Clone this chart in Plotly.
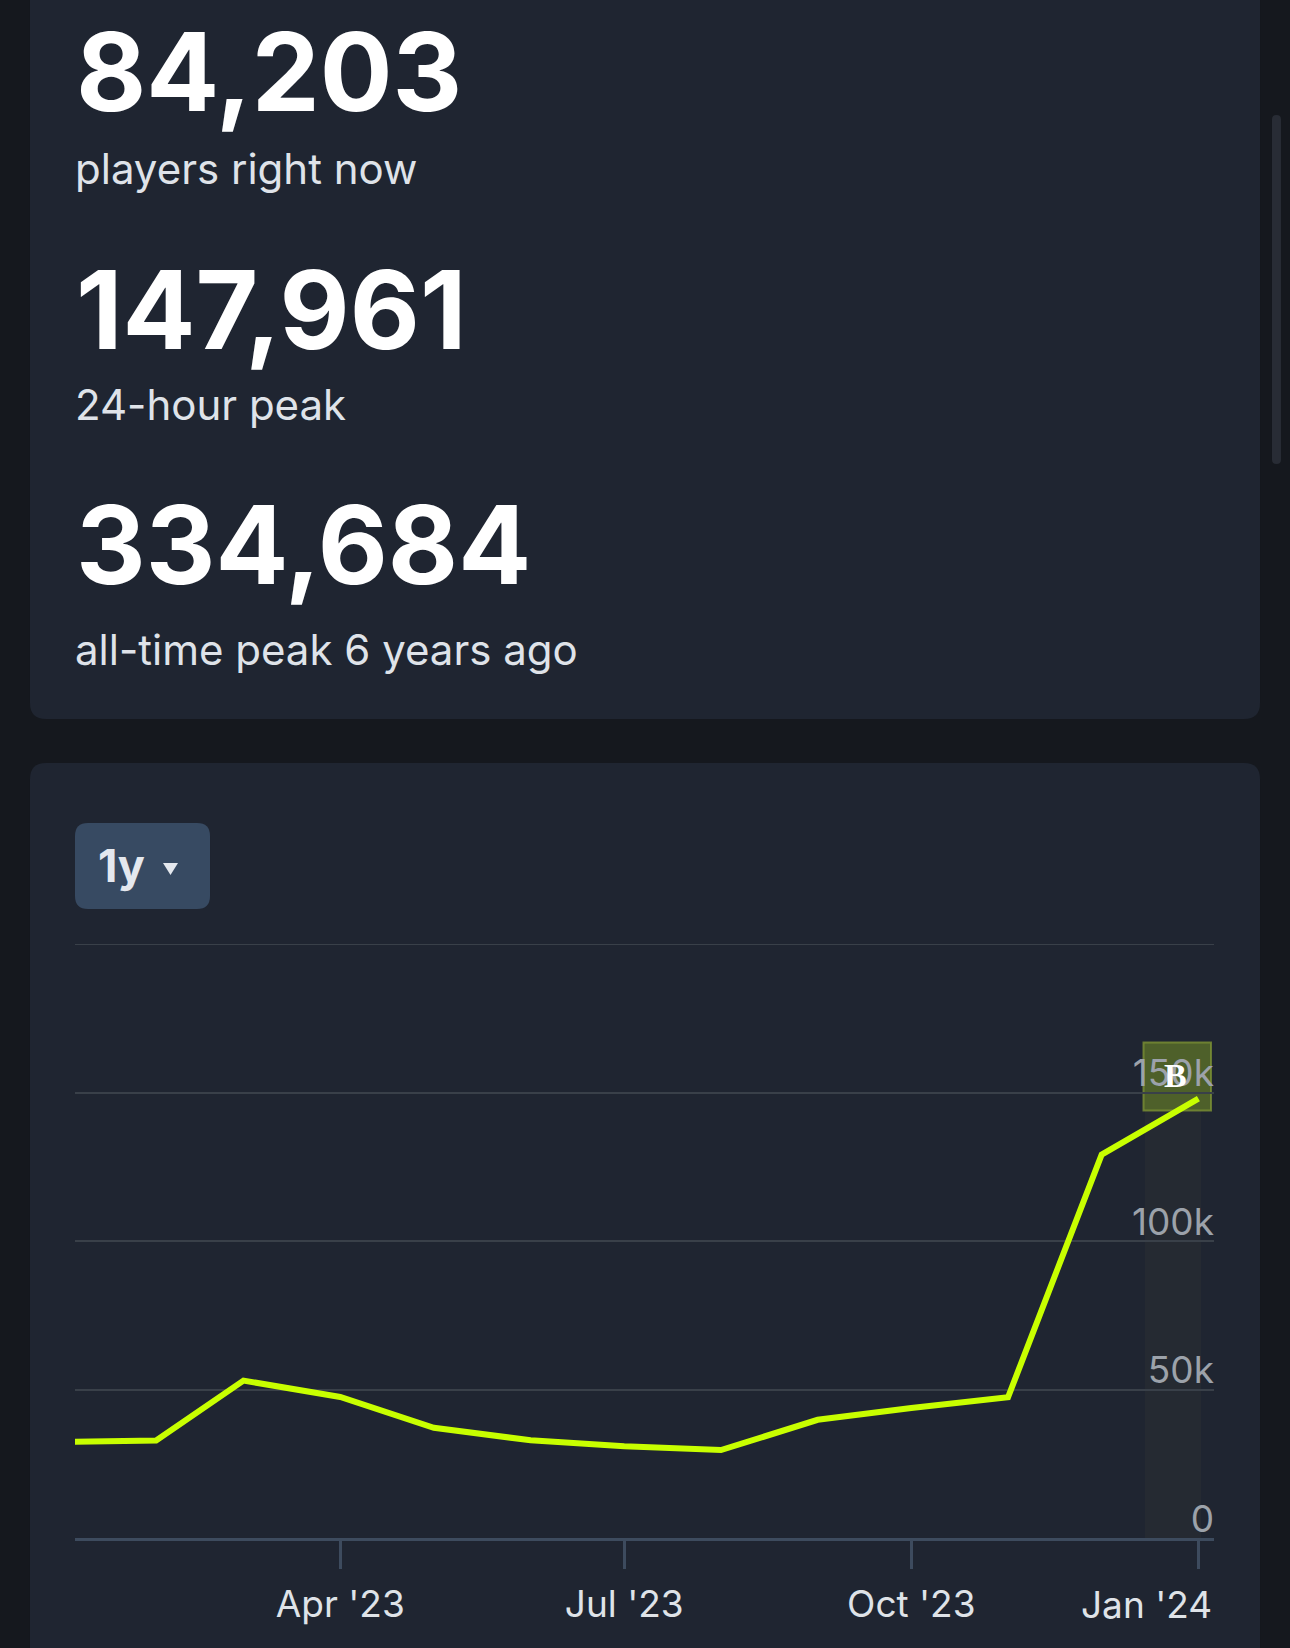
import plotly.graph_objects as go

# ---------------- data ----------------
dates = ["2023-01-01", "2023-02-01", "2023-03-01", "2023-04-01", "2023-05-01",
         "2023-06-01", "2023-07-01", "2023-08-01", "2023-09-01", "2023-10-01",
         "2023-11-01", "2023-12-01", "2024-01-01"]
players = [32300, 32800, 53000, 47500, 37100, 32900, 30900, 29600, 39800,
           43800, 47400, 129100, 147961]

stat_values = ["84,203", "147,961", "334,684"]
stat_labels = ["players right now", "24-hour peak", "all-time peak 6 years ago"]

x_tick_vals = ["2023-04-01", "2023-07-01", "2023-10-01", "2024-01-01"]
x_tick_text = ["Apr '23", "Jul '23", "Oct '23", "Jan '24"]
y_tick_vals = [0, 50000, 100000, 150000]
y_tick_text = ["0", "50k", "100k", "150k"]
y_top = 200000
x_range = ["2023-01-06", "2024-01-06"]
range_label = "1y"

# ---------------- geometry / style ----------------
W, H = 1290, 1648
L, R, T, B = 75, 1214, 944, 1538  # plot area in pixels

OUTER = "#15181e"
CARD = "#1f2531"
BTN = "#374a62"
LIME = "#c8ff00"
GRID = "#394049"
AXIS = "#3d4b5e"
FONT = "Inter"


def px(x):
    return (x - L) / (R - L)


def py(y):
    return (B - y) / (B - T)


def rrect(x0, y0, x1, y1, r):
    pts = [
        ("M", [(x0 + r, y0)]),
        ("L", [(x1 - r, y0)]),
        ("Q", [(x1, y0), (x1, y0 + r)]),
        ("L", [(x1, y1 - r)]),
        ("Q", [(x1, y1), (x1 - r, y1)]),
        ("L", [(x0 + r, y1)]),
        ("Q", [(x0, y1), (x0, y1 - r)]),
        ("L", [(x0, y0 + r)]),
        ("Q", [(x0, y0), (x0 + r, y0)]),
    ]
    s = ""
    for cmd, ps in pts:
        s += cmd + " " + " ".join(f"{px(a):.5f},{py(b):.5f}" for a, b in ps) + " "
    return s + "Z"


shapes = [
    # cards
    dict(type="path", path=rrect(30, -30, 1260, 719, 16), xref="paper", yref="paper",
         fillcolor=CARD, line=dict(width=0), layer="below"),
    dict(type="path", path=rrect(30, 763, 1260, 1700, 16), xref="paper", yref="paper",
         fillcolor=CARD, line=dict(width=0), layer="below"),
    # scrollbar
    dict(type="path", path=rrect(1272, 115, 1281, 464, 4.5), xref="paper", yref="paper",
         fillcolor="#282c35", line=dict(width=0), layer="below"),
    # range button
    dict(type="path", path=rrect(75, 823, 210, 909, 13), xref="paper", yref="paper",
         fillcolor=BTN, line=dict(width=0), layer="below"),
    dict(type="path",
         path=f"M {px(163):.5f},{py(863):.5f} L {px(178):.5f},{py(863):.5f} L {px(170.5):.5f},{py(875):.5f} Z",
         xref="paper", yref="paper", fillcolor="#e4e8ee", line=dict(width=0), layer="above"),
    # hover highlight column
    dict(type="rect", xref="paper", yref="paper", x0=px(1145), x1=px(1201), y0=py(1538), y1=py(1110),
         fillcolor="#252a32", line=dict(width=0), layer="below"),
    # olive marker box
    dict(type="rect", xref="paper", yref="paper", x0=px(1143.5), x1=px(1211), y0=py(1110.5), y1=py(1042.5),
         fillcolor="rgba(108,132,38,0.62)", line=dict(color="rgba(128,150,52,0.75)", width=2), layer="below"),
    # top gridline
    dict(type="line", xref="paper", yref="y", x0=0, x1=1, y0=y_top, y1=y_top,
         line=dict(color=GRID, width=2), layer="below"),
]

annotations = []
big_centers = [71.7, 309.3, 544.7]
small_centers = [168.0, 404.7, 649.0]
for v, lab, cy, sy in zip(stat_values, stat_labels, big_centers, small_centers):
    annotations.append(dict(text=v, xref="paper", yref="paper", x=px(74), y=py(cy),
                            xanchor="left", yanchor="middle", showarrow=False,
                            font=dict(family=FONT, size=108, color="#ffffff", weight=700)))
    annotations.append(dict(text=lab, xref="paper", yref="paper", x=px(73), y=py(sy),
                            xanchor="left", yanchor="middle", showarrow=False,
                            font=dict(family=FONT, size=42, color="#dfe3e9")))

annotations.append(dict(text=range_label, xref="paper", yref="paper", x=px(96), y=py(865),
                        xanchor="left", yanchor="middle", showarrow=False,
                        font=dict(family=FONT, size=45, color="#e4e8ee", weight=700)))
# last x label, justified inside plot
annotations.append(dict(text=x_tick_text[-1], xref="paper", yref="paper", x=1.0, y=py(1604),
                        xanchor="right", yanchor="middle", showarrow=False,
                        font=dict(family=FONT, size=37, color="#dfe3e8")))
annotations.append(dict(text="B", xref="paper", yref="paper", x=px(1175.5), y=py(1075),
                        xanchor="center", yanchor="middle", showarrow=False,
                        font=dict(family="Liberation Serif", size=34, color="#ffffff", weight=700)))

fig = go.Figure()
fig.add_trace(go.Scatter(x=dates, y=players, mode="lines",
                         line=dict(color=LIME, width=6), hoverinfo="skip"))

fig.update_layout(
    width=W, height=H,
    margin=dict(l=L, r=W - R, t=T, b=H - B, pad=0),
    paper_bgcolor=OUTER, plot_bgcolor="rgba(0,0,0,0)",
    showlegend=False, hovermode=False,
    shapes=shapes, annotations=annotations,
    font=dict(family=FONT),
)
fig.update_xaxes(
    type="date", range=x_range, showgrid=False, zeroline=False,
    showline=True, linecolor=AXIS, linewidth=3,
    ticks="outside", ticklen=28, tickwidth=2.5, tickcolor=AXIS,
    tickvals=x_tick_vals, ticktext=x_tick_text[:-1] + [""],
    tickfont=dict(family=FONT, size=37, color="#dfe3e8"),
    ticklabelstandoff=4,
)
fig.update_yaxes(
    range=[0, y_top], side="right", showgrid=True, gridcolor=GRID, gridwidth=2,
    zeroline=False, showline=False, ticks="",
    tickvals=y_tick_vals, ticktext=y_tick_text,
    ticklabelposition="inside", ticklabelshift=-19, ticklabelstandoff=-3,
    ticklabeloverflow="allow",
    tickfont=dict(family=FONT, size=37, color="#9ca2aa"),
)

fig.write_html("out.html", config={"displayModeBar": False},
               post_script="document.body.style.margin='0';document.body.style.background='%s';" % OUTER)
